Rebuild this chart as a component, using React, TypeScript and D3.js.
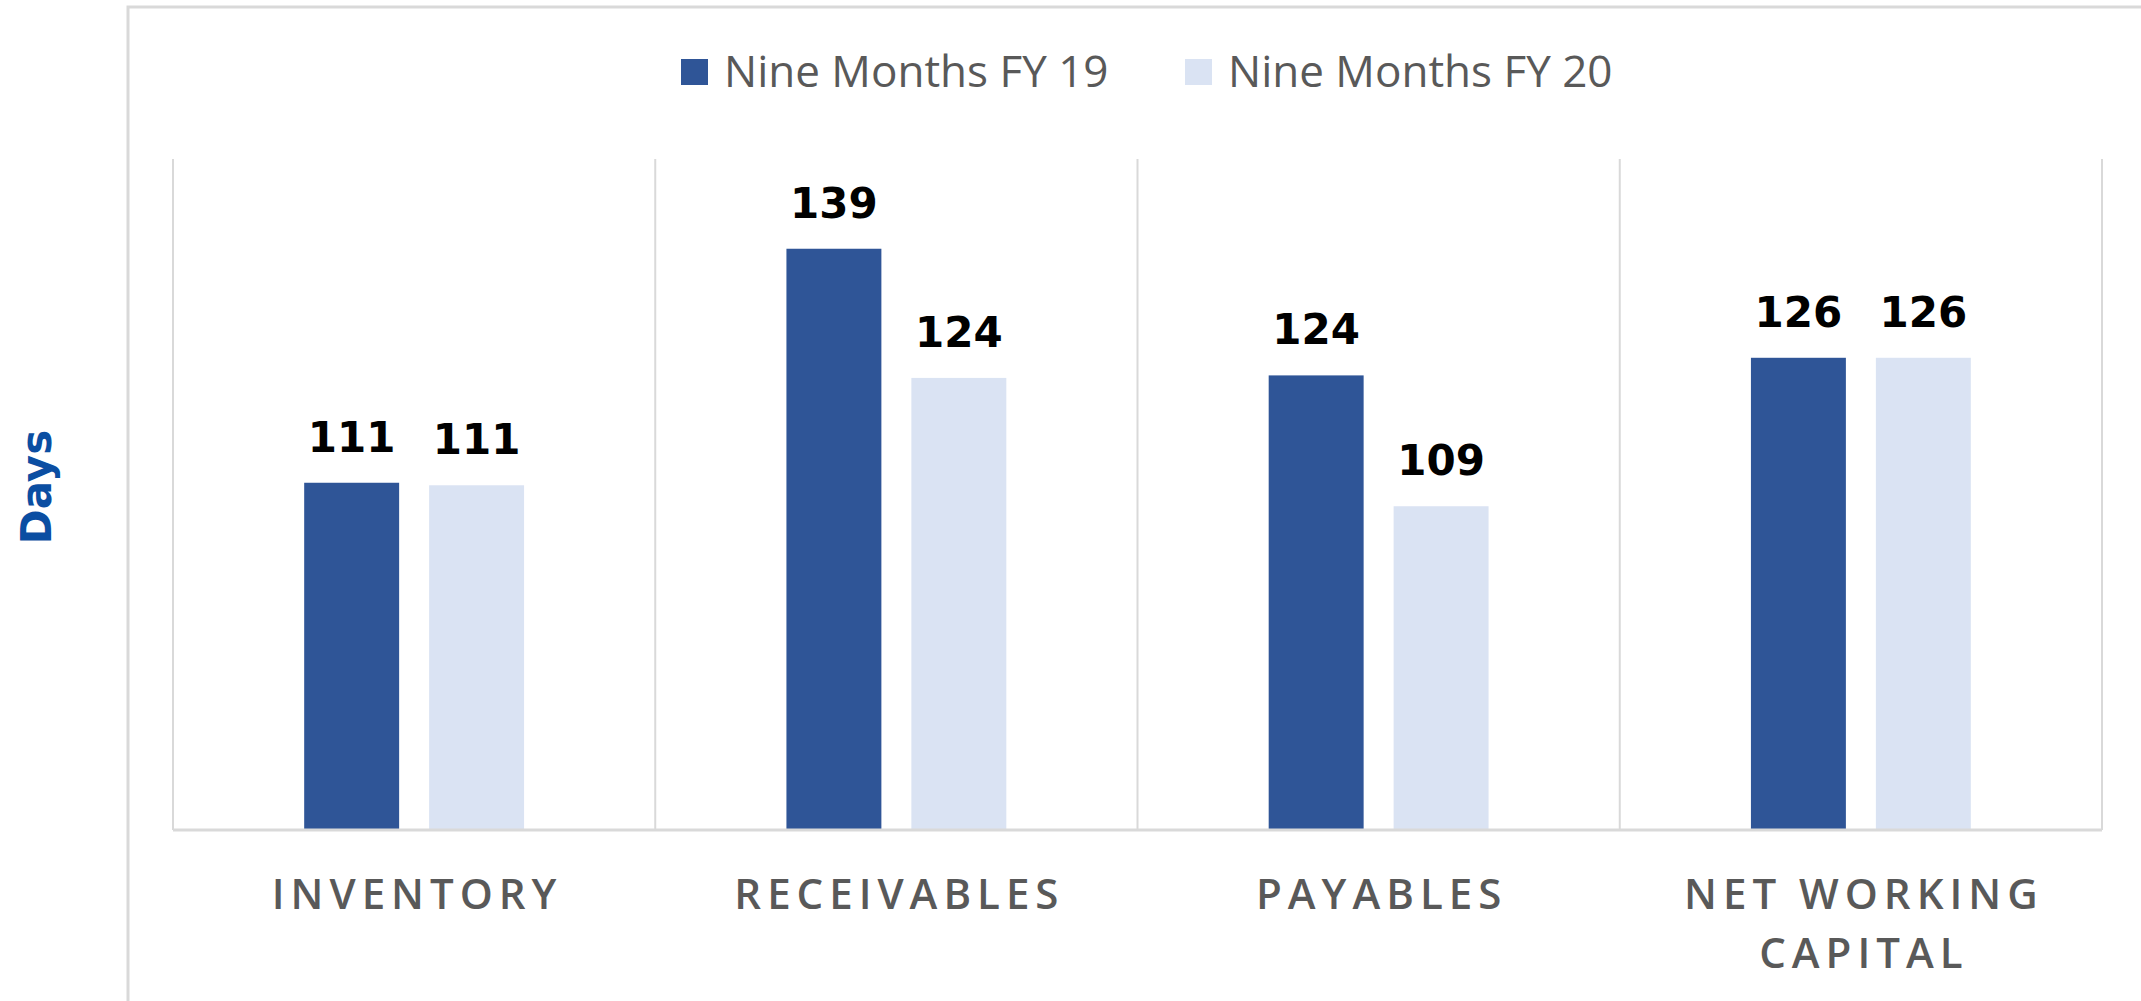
import React, { useEffect } from 'react';
import * as d3 from 'd3';

// values (days)
const categories = ['INVENTORY', 'RECEIVABLES', 'PAYABLES', 'NET WORKING CAPITAL'];
const tickLines = [['INVENTORY'], ['RECEIVABLES'], ['PAYABLES'], ['NET WORKING', 'CAPITAL']];
const seriesNames = ['Nine Months FY 19', 'Nine Months FY 20'];
const fy19 = [111.4, 139.3, 124.2, 126.3];
const fy20 = [111.1, 123.9, 108.6, 126.3];
const yDomain = [70, 150];
const colors = ['#2F5597', '#DAE3F3'];

const W = 2141;
const H = 1001;
const plot = { left: 173, right: 2102, top: 159, bottom: 830 };

export default function App() {
  useEffect(() => {
    document.body.style.margin = '0';
    document.body.style.overflow = 'hidden';
  }, []);

  const x0 = d3.scaleBand<string>().domain(categories).range([plot.left, plot.right]).padding(0);
  const x1 = d3.scaleBand<string>().domain(seriesNames).range([0, x0.bandwidth()])
    .paddingInner(0.24).paddingOuter(1.05);
  const y = d3.scaleLinear().domain(yDomain).range([plot.bottom, plot.top]);
  const fmt = d3.format('.0f');
  const series = [fy19, fy20];

  const bounds = categories.map(c => x0(c)!).concat([plot.right]);

  return (
    <svg width={W} height={H} style={{ display: 'block' }}>
      <rect x={0} y={0} width={W} height={H} fill="#fff" />
      {/* outer chart border */}
      <rect x={128} y={7} width={2200} height={1200} fill="none" stroke="#d9d9d9" strokeWidth={3} />

      {/* legend */}
      <g fontFamily="'Open Sans', sans-serif" fontSize={44} fill="#595959">
        <rect x={681} y={59} width={27} height={26} fill={colors[0]} />
        <text x={724} y={87}>{seriesNames[0]}</text>
        <rect x={1185} y={59} width={27} height={26} fill={colors[1]} />
        <text x={1228} y={87}>{seriesNames[1]}</text>
      </g>

      {/* category separators */}
      {bounds.map((b, i) => (
        <line key={i} x1={b} x2={b} y1={plot.top} y2={plot.bottom} stroke="#d9d9d9" strokeWidth={2} />
      ))}

      {/* bars */}
      {categories.map((c, ci) => (
        <g key={c} transform={`translate(${x0(c)},0)`}>
          {series.map((s, si) => (
            <g key={si}>
              <rect
                x={x1(seriesNames[si])}
                y={y(s[ci])}
                width={x1.bandwidth()}
                height={plot.bottom - y(s[ci])}
                fill={colors[si]}
              />
              <text
                x={x1(seriesNames[si])! + x1.bandwidth() / 2}
                y={y(s[ci]) - 31}
                textAnchor="middle"
                fontFamily="'DejaVu Sans', sans-serif"
                fontWeight="bold"
                fontSize={42}
                fill="#000"
              >
                {fmt(s[ci])}
              </text>
            </g>
          ))}
        </g>
      ))}

      {/* baseline */}
      <line x1={plot.left} x2={plot.right} y1={plot.bottom} y2={plot.bottom} stroke="#d9d9d9" strokeWidth={3} />

      {/* category labels */}
      <g fontFamily="'Open Sans', sans-serif" fontWeight={600} fontSize={42} fill="#595959" textAnchor="middle" letterSpacing={6}>
        {categories.map((c, ci) => (
          <text key={c} x={x0(c)! + x0.bandwidth() / 2 + 3} y={909}>
            {tickLines[ci].map((line, li) => (
              <tspan key={li} x={x0(c)! + x0.bandwidth() / 2 + 3} dy={li === 0 ? 0 : 59}>{line}</tspan>
            ))}
          </text>
        ))}
      </g>

      {/* y axis title */}
      <text
        transform="translate(51,487) rotate(-90)"
        textAnchor="middle"
        fontFamily="'DejaVu Sans', sans-serif"
        fontWeight="bold"
        fontSize={42}
        fill="#0B4EA2"
      >
        Days
      </text>
    </svg>
  );
}
